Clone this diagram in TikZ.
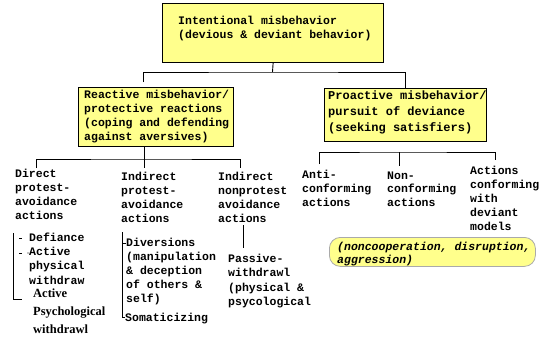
\documentclass[tikz,border=0pt]{standalone}
\usepackage{fontspec}
\newfontfamily\pixfont{Liberation Mono}
\newfontfamily\tmsfont{Liberation Serif}
\definecolor{boxyellow}{RGB}{255,255,140}
\definecolor{pillborder}{RGB}{170,170,170}
\begin{document}
\begin{tikzpicture}[x=1pt,y=-1pt,
  box/.style={draw, line width=1.2pt, fill=boxyellow, inner sep=0pt, anchor=north west},
  txt/.style={anchor=north west, inner sep=0pt, align=left, font=\pixfont\bfseries\fontsize{11.5}{14}\selectfont},
  conn/.style={line width=0.9pt}]
\useasboundingbox[fill=white] (0,0) rectangle (548,349);

% boxes
\node[box, minimum width=221pt, minimum height=59pt] (top) at (162,3) {};
\node[txt] (toptext) at (178,15.5) {Intentional misbehavior\\(devious \& deviant behavior)};

\node[box, minimum width=155pt, minimum height=59pt] (react) at (78,87) {};
\node[txt] (reacttext) at (84,89.5) {Reactive misbehavior/\\protective reactions\\(coping and defending\\against aversives)};

\node[box, minimum width=162pt, minimum height=53pt] (proact) at (324,88) {};
\node[txt, font=\pixfont\bfseries\fontsize{12}{16}\selectfont] (proacttext) at (328,91) {Proactive misbehavior/\\pursuit of deviance\\(seeking satisfiers)};

% level 3 texts
\node[txt] (direct) at (15,168.5) {Direct\\protest-\\avoidance\\actions};
\node[txt] (indp) at (121,171.5) {Indirect\\protest-\\avoidance\\actions};
\node[txt] (indn) at (218,171.5) {Indirect\\nonprotest\\avoidance\\actions};
\node[txt] (anti) at (302,169.5) {Anti-\\conforming\\actions};
\node[txt, font=\pixfont\bfseries\fontsize{11.5}{13.5}\selectfont] (non) at (387,171.5) {Non-\\conforming\\actions};
\node[txt] (actc) at (470,165.5) {Actions\\conforming\\with\\deviant\\models};

% lists
\node[txt, font=\pixfont\bfseries\fontsize{11.5}{14.3}\selectfont] (defl) at (29,232.5) {Defiance\\Active\\physical\\withdraw};
\node[anchor=north west, inner sep=0pt, align=left, font=\tmsfont\bfseries\fontsize{12.5}{18}\selectfont] (psyl) at (33,289) {Active\\Psychological\\withdrawl};
\node[txt] (divl) at (126,237.5) {Diversions\\(manipulation\\\& deception\\of others \&\\self)};
\node[txt] (soma) at (125,312.5) {Somaticizing};
\node[txt, font=\pixfont\bfseries\fontsize{11.5}{14.5}\selectfont] (pass) at (228,253.5) {Passive-\\withdrawl\\(physical \&\\psycological};

% pill
\node[draw=pillborder, line width=0.8pt, fill=boxyellow, rounded corners=11pt, minimum width=206pt, minimum height=29pt, anchor=north west, inner sep=0pt] (pill) at (329,237) {};
\node[txt, font=\pixfont\bfseries\itshape\fontsize{11.5}{13}\selectfont] (pilltext) at (337,241.5) {(noncooperation, disruption,\\aggression)};

% connectors level 1
\coordinate (tj) at (272.5,72);
\coordinate (rl) at (143,82);
\draw[conn] (top.south) -- (tj);
\draw[conn] (rl) |- (tj) -| (proact.north);

% connectors from reactive
\coordinate (lj) at (144,159);
\coordinate (dd) at (36,168);
\coordinate (di) at (144,168);
\coordinate (dn) at (240,168);
\draw[conn] (react.south -| lj) -- (lj);
\draw[conn] (dd) |- (lj) -| (dn);
\draw[conn] (lj) -- (di);

% proactive children
\coordinate (rj) at (399,152);
\coordinate (da) at (319,164);
\coordinate (dm) at (399,166);
\coordinate (dc) at (495,160);
\draw[conn] (da) |- (rj) -| (dc);
\draw[conn] (rj) -- (dm);

% list brackets
\coordinate (b1) at (13,233);
\coordinate (b2) at (13,299);
\coordinate (b3) at (22,299);
\draw[conn] (b1) -- (b2) -- (b3);
\draw[conn] (19,238) -- (22,238);
\draw[conn] (19,253) -- (22,253);
\fill (28,253) circle (0.7pt);

\coordinate (m1) at (122,232);
\coordinate (m2) at (122,317);
\draw[conn] (m1) -- (m2) -- (soma.west |- m2);
\draw[conn] (122,243) -- (divl.west |- 0,243);

\coordinate (p1) at (243,225);
\coordinate (p2) at (243,248);
\draw[conn] (p1) -- (p2);
\end{tikzpicture}
\end{document}
